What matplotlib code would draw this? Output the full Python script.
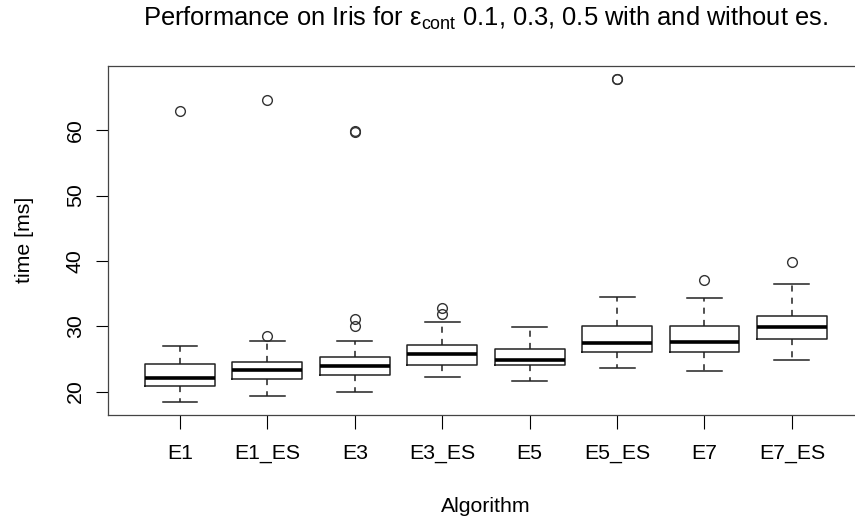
import numpy as np
import matplotlib
matplotlib.use("Agg")
import matplotlib.pyplot as plt

plt.rcParams['font.family'] = ['Liberation Sans', 'DejaVu Sans']
plt.rcParams['mathtext.fontset'] = 'custom'
plt.rcParams['mathtext.rm'] = 'Liberation Sans'
plt.rcParams['mathtext.it'] = 'Liberation Sans'

# box statistics
algos = ['E1', 'E1_ES', 'E3', 'E3_ES', 'E5', 'E5_ES', 'E7', 'E7_ES']
whis_lo = [18.4, 19.3, 19.9, 22.2, 21.6, 23.6, 23.1, 24.9]
q1 = [20.8, 22.0, 22.6, 24.1, 24.1, 26.1, 26.1, 28.0]
med = [22.1, 23.3, 23.9, 25.7, 24.8, 27.5, 27.6, 29.9]
q3 = [24.2, 24.6, 25.3, 27.1, 26.5, 30.0, 30.1, 31.5]
whis_hi = [27.0, 27.7, 27.8, 30.6, 29.9, 34.5, 34.3, 36.4]
outliers = [[62.9], [28.5, 64.6], [30.1, 31.1, 59.7, 59.9], [31.9, 32.8],
            [], [67.8, 67.9], [37.1], [39.8]]

stats = []
for i in range(len(algos)):
    stats.append(dict(label=algos[i], whislo=whis_lo[i], q1=q1[i], med=med[i],
                      q3=q3[i], whishi=whis_hi[i], fliers=outliers[i]))

fig = plt.figure(figsize=(8.55, 5.23), dpi=100)
ax = fig.add_axes([0.1267, 0.2065, 0.8833, 0.6679])

ax.bxp(stats, positions=np.arange(1, 9), widths=0.8, capwidths=0.4,
       boxprops=dict(color='#222222', linewidth=1.1),
       whiskerprops=dict(color='#222222', linewidth=1.1, linestyle=(0, (4, 4))),
       capprops=dict(color='#222222', linewidth=1.1),
       medianprops=dict(color='black', linewidth=2.6, solid_capstyle='butt'),
       flierprops=dict(marker='o', markerfacecolor='none', markeredgecolor='#333333',
                       markersize=7, markeredgewidth=1.0))

# R style 4% padding
lo = min(whis_lo)
hi = max(max(o) for o in outliers if o)
pad = (hi - lo) * 0.04
ax.set_ylim(lo - pad, hi + pad)
ax.set_xlim(0.18, 8.82)

ax.set_yticks([20, 30, 40, 50, 60])
ax.set_yticklabels(['20', '30', '40', '50', '60'], rotation=90, va='center')
ax.tick_params(axis='y', length=9, width=0.8, pad=8, labelsize=15.3)
ax.tick_params(axis='x', length=10, width=0.8, pad=11, labelsize=15.3)

for s in ax.spines.values():
    s.set_color('#444444')
    s.set_linewidth(0.9)

ax.set_xlabel('Algorithm', fontsize=15.3, labelpad=24)
ax.set_ylabel('time [ms]', fontsize=15.3, labelpad=23)
fig.text(0.568, 0.9656, r'Performance on Iris for ε$_{\mathrm{cont}}$ 0.1, 0.3, 0.5 with and without es.',
         ha='center', va='center', fontsize=18.4)

fig.savefig('out.png', dpi=100)
